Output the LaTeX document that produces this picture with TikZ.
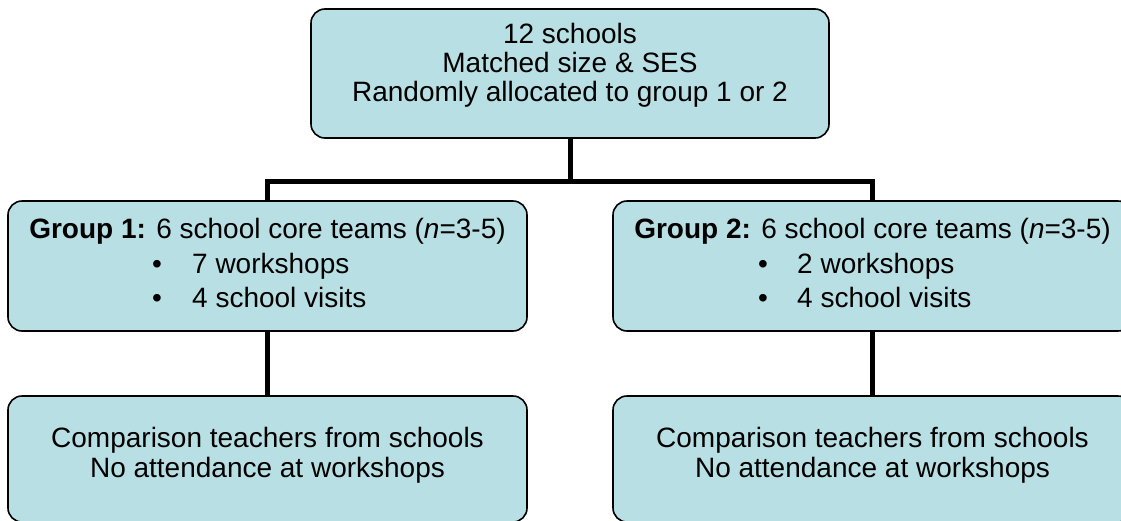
\documentclass[tikz,border=0pt]{standalone}
\usepackage{fontspec}
\setmainfont{Liberation Sans}
\definecolor{boxfill}{RGB}{184,223,227}
\tikzset{
  box/.style={draw=black, line width=1.6pt, fill=boxfill, rounded corners=14pt, inner sep=0pt},
  txt/.style={anchor=base, inner sep=0pt, font=\fontsize{28}{30}\selectfont},
  txtl/.style={anchor=base west, inner sep=0pt, font=\fontsize{28}{30}\selectfont},
  conn/.style={draw=black, line width=5pt, line join=miter}
}
\begin{document}
\begin{tikzpicture}[x=1pt,y=-1pt]
\useasboundingbox (0,0) rectangle (1121,520);
% boxes
\node[box, minimum width=518pt, minimum height=129pt] (top) at (570,73.5) {};
\node[box, minimum width=519pt, minimum height=130pt] (g1) at (267.5,266) {};
\node[box, minimum width=519pt, minimum height=130pt] (g2) at (872.5,266) {};
\node[box, minimum width=519pt, minimum height=126pt] (b1) at (267.5,459) {};
\node[box, minimum width=519pt, minimum height=126pt] (b2) at (872.5,459) {};
% connectors
\coordinate (bar) at (570,181);
\draw[conn] (top.south) -- (bar);
\draw[conn] (g1.north) -- (g1.north |- bar) -- (g2.north |- bar) -- (g2.north);
\draw[conn] (g1.south) -- (b1.north);
\draw[conn] (g2.south) -- (b2.north);
% top text
\node[txt] (t1) at (570,43) {12 schools};
\node[txt] (t2) at (570,72) {Matched size \& SES};
\node[txt] (t3) at (570,101) {Randomly allocated to group 1 or 2};
% group 1
\node[txt] (g1a) at (267.5,238) {\textbf{Group 1:} 6 school core teams (\textit{n}=3-5)};
\node[txt] (g1b) at (157,273) {\textbullet};
\node[txtl] (g1c) at (192,273) {7 workshops};
\node[txt] (g1d) at (157,307) {\textbullet};
\node[txtl] (g1e) at (192,307) {4 school visits};
% group 2
\node[txt] (g2a) at (872.5,238) {\textbf{Group 2:} 6 school core teams (\textit{n}=3-5)};
\node[txt] (g2b) at (763,273) {\textbullet};
\node[txtl] (g2c) at (797,273) {2 workshops};
\node[txt] (g2d) at (763,307) {\textbullet};
\node[txtl] (g2e) at (797,307) {4 school visits};
% bottom texts
\node[txt] (b1a) at (267.5,447) {Comparison teachers from schools};
\node[txt] (b1b) at (267.5,477) {No attendance at workshops};
\node[txt] (b2a) at (872.5,447) {Comparison teachers from schools};
\node[txt] (b2b) at (872.5,477) {No attendance at workshops};
\end{tikzpicture}
\end{document}
